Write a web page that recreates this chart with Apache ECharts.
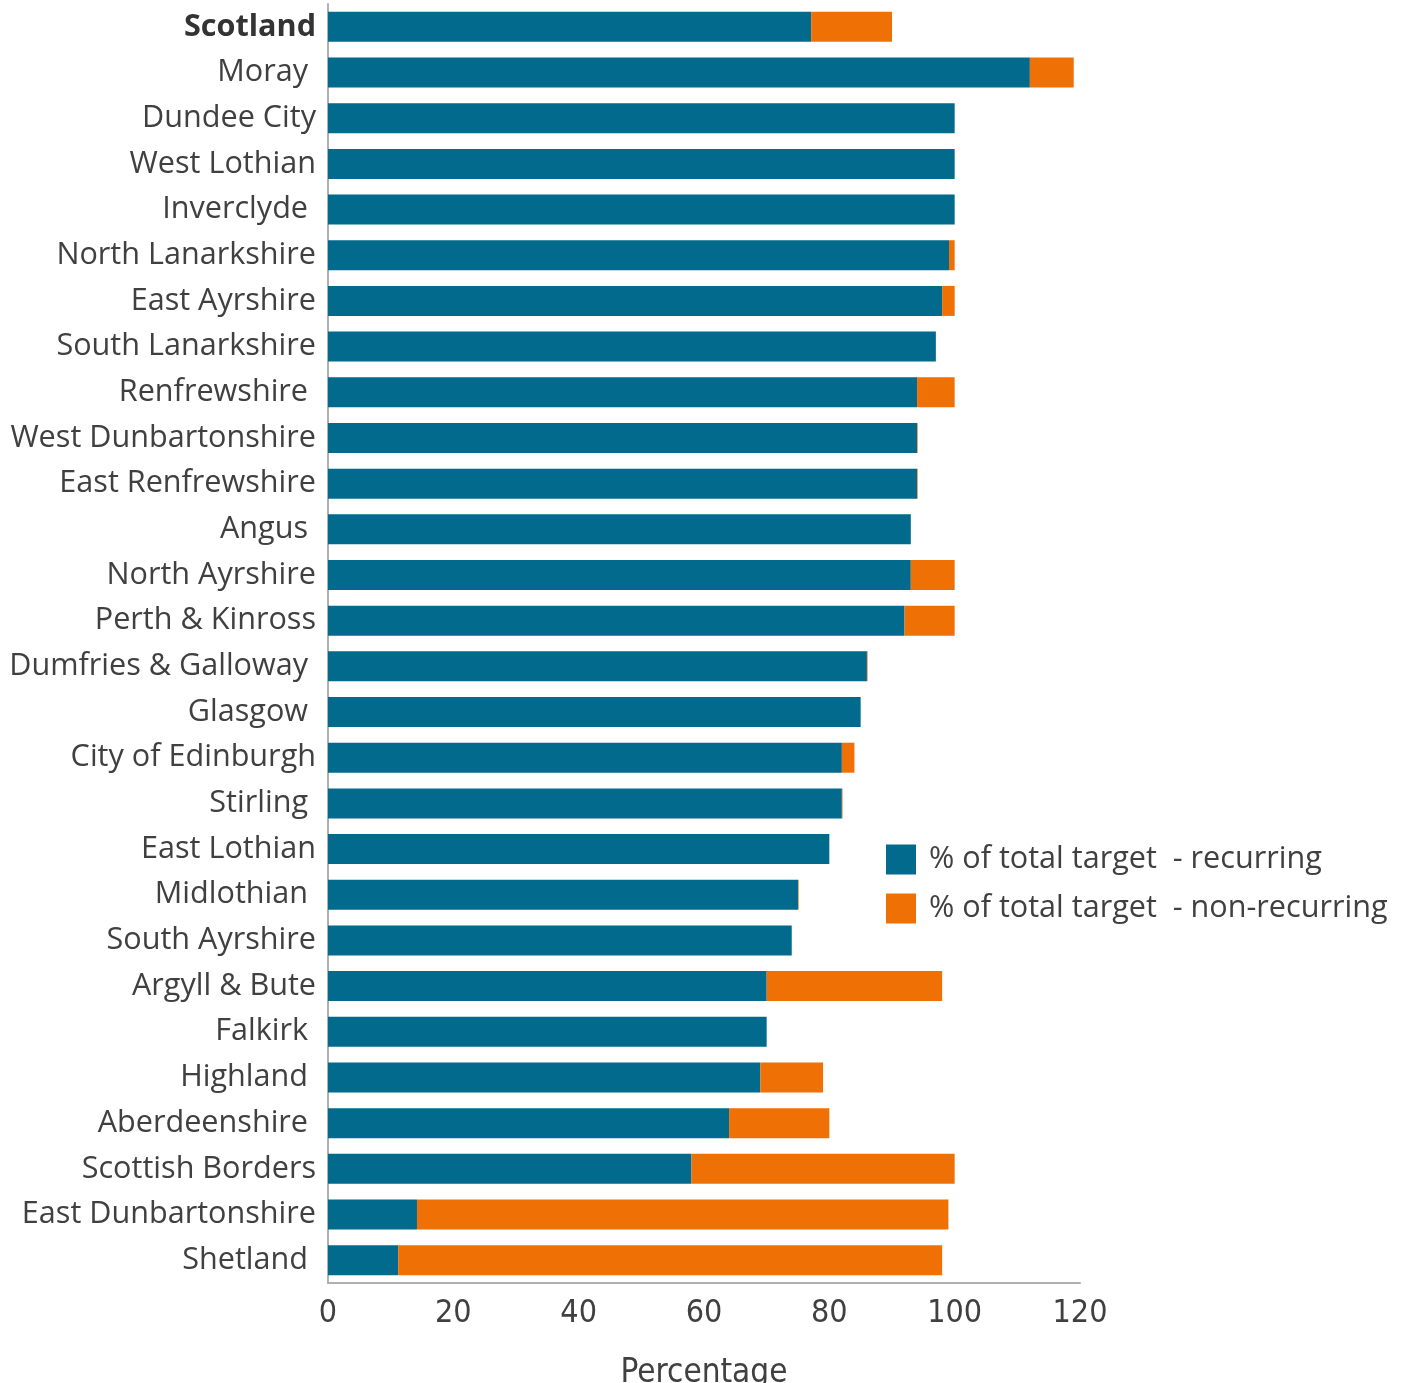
<!DOCTYPE html>
<html>
<head>
<meta charset="utf-8">
<script src="https://cdn.jsdelivr.net/npm/echarts@6/dist/echarts.min.js"></script>
<style>html,body{margin:0;padding:0;background:#fff;}#c{width:1407px;height:1383px;}</style>
</head>
<body>
<div id="c"></div>
<script>
const categories = ["Scotland","Moray ","Dundee City","West Lothian","Inverclyde ","North Lanarkshire","East Ayrshire","South Lanarkshire","Renfrewshire ","West Dunbartonshire","East Renfrewshire","Angus ","North Ayrshire","Perth & Kinross","Dumfries & Galloway ","Glasgow ","City of Edinburgh","Stirling ","East Lothian","Midlothian ","South Ayrshire","Argyll & Bute","Falkirk ","Highland ","Aberdeenshire ","Scottish Borders","East Dunbartonshire","Shetland "];
const recurring = [77.1,112,100,100,100,99.1,98,97,94,94,94,93,93,92,86,85,82,82,80,75,74,70,70,69,64,58,14.2,11.2];
const nonRecurring = [12.9,7,0,0,0,0.9,2,0,6,0.1,0.1,0,7,8,0.1,0,2,0.1,0,0.1,0,28,0,10,16,42,84.8,86.8];
const seriesNames = ["% of total target  - recurring","% of total target  - non-recurring"];
const xTicks = [0,20,40,60,80,100,120];

const chart = echarts.init(document.getElementById('c'));
const textColor = '#404040';
const font = '"Open Sans", "DejaVu Sans", sans-serif';
const narrow = '"Liberation Sans Narrow", "DejaVu Sans Condensed", "Roboto", sans-serif';
chart.setOption({
  animation: false,
  grid: {left: 328, right: 327, top: 4, bottom: 100, containLabel: false, outerBoundsMode: 'none'},
  legend: {
    orient: 'vertical', left: 881, top: 839,
    itemWidth: 30, itemHeight: 30, itemGap: 18,
    icon: 'rect',
    textStyle: {fontFamily: font, fontSize: 30.6, color: textColor, padding: [0,0,0,8]},
    data: seriesNames
  },
  xAxis: {
    type: 'value', min: xTicks[0], max: xTicks[xTicks.length-1], interval: 20,
    name: 'Percentage', nameLocation: 'middle', nameGap: 74, nameMoveOverlap: false,
    nameTextStyle: {fontFamily: narrow, fontSize: 33, color: textColor},
    axisLine: {show: true, lineStyle: {color: '#b0b0b0', width: 2}},
    axisTick: {show: false},
    splitLine: {show: false},
    axisLabel: {fontFamily: narrow, fontSize: 32, color: textColor, margin: 15}
  },
  yAxis: {
    type: 'category', data: categories, inverse: true,
    axisLine: {show: true, lineStyle: {color: '#b0b0b0', width: 2}},
    axisTick: {show: false},
    axisLabel: {
      margin: 12, fontFamily: font, fontSize: 30.6, color: textColor,
      formatter: function (v) { return v === 'Scotland' ? '{b|' + v + '}' : v; },
      rich: {b: {fontFamily: font, fontSize: 30.6, fontWeight: 'bold', color: '#333333'}}
    }
  },
  series: [
    {name: seriesNames[0], type: 'bar', stack: 'a', barWidth: 30, data: recurring, itemStyle: {color: '#016a8d'}},
    {name: seriesNames[1], type: 'bar', stack: 'a', barWidth: 30, data: nonRecurring, itemStyle: {color: '#ef7005'}}
  ]
});
</script>
</body>
</html>
